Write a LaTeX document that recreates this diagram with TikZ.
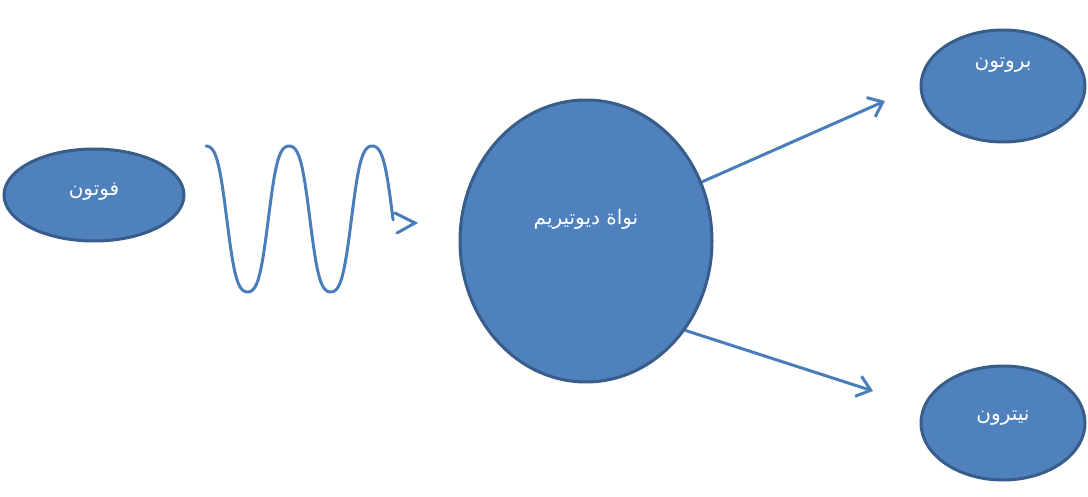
\documentclass[tikz,border=0pt]{standalone}
\usepackage{fontspec}
\newfontfamily\arabicfont[Script=Arabic]{DejaVu Sans}
\TeXXeTstate=1
\usetikzlibrary{shapes.geometric,arrows.meta}
\definecolor{blobfill}{HTML}{4F81BD}
\definecolor{blobedge}{HTML}{385D8A}
\definecolor{linec}{HTML}{4A7EBB}
\tikzset{
  blob/.style={ellipse, draw=blobedge, fill=blobfill, line width=3pt, inner sep=0pt},
  blobtext/.style={text=white, font=\arabicfont\fontsize{20}{23}\selectfont},
  conn/.style={draw=linec, line width=3pt, -{Straight Barb[length=13pt,width=21pt,line width=3pt]}},
}
\begin{document}
\begin{tikzpicture}[x=1pt,y=-1pt]
\useasboundingbox (0,0) rectangle (1088,497);
\node[blob, minimum width=180pt, minimum height=92pt, label={[blobtext, yshift=3pt]center:\beginR فوتون\endR}] (photon) at (94,195) {};
\node[blob, minimum width=252pt, minimum height=282pt, label={[blobtext, yshift=22pt]center:\beginR نواة ديوتيريم\endR}] (deut) at (586,241) {};
\node[blob, minimum width=164pt, minimum height=112pt, label={[blobtext, yshift=21pt]center:\beginR بروتون\endR}] (proton) at (1003,86) {};
\node[blob, minimum width=164pt, minimum height=114pt, label={[blobtext, yshift=5pt]center:\beginR نيترون\endR}] (neutron) at (1003,423) {};
\coordinate (wstart) at (206,146);
\coordinate (wend) at (393,220);
\coordinate (chevA) at (395,213);
\coordinate (wtip) at (415,223);
\coordinate (chevB) at (397,233);
\coordinate (ptip) at (885,101);
\coordinate (ntip) at (873,391);
% photon wave
\draw[linec, line width=3pt, line cap=round]
  plot[domain=0:810, samples=300] ({206+\x/810*187}, {219-73*cos(\x-12*sin(2*\x))})
  -- (wend);
\draw[linec, line width=3pt, line cap=round, line join=miter]
  (chevA) -- (wtip) -- (chevB);
% outgoing particles
\draw[conn] (deut.27) -- (ptip);
\draw[conn] (deut.-42) -- (ntip);
\end{tikzpicture}
\end{document}
